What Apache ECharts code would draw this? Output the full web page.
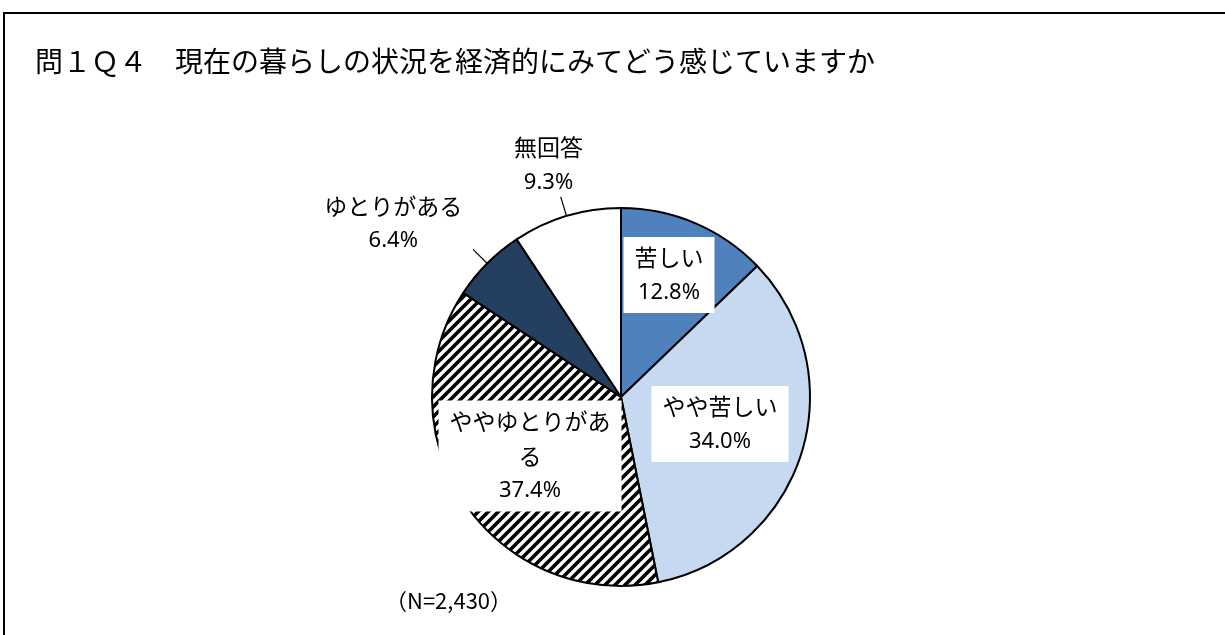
<!DOCTYPE html>
<html>
<head>
<meta charset="utf-8">
<script src="https://cdn.jsdelivr.net/npm/echarts@6/dist/echarts.min.js"></script>
<style>
  html, body { margin: 0; padding: 0; background: #fff; }
  #chart { width: 1225px; height: 635px; }
</style>
</head>
<body>
<div id="chart"></div>
<script>
const categories = ['苦しい', 'やや苦しい', 'ややゆとりがある', 'ゆとりがある', '無回答']
const percents = [12.8, 34.0, 37.4, 6.4, 9.3]
const sampleNote = '（N=2,430）'
const titleText = '問１Ｑ４　現在の暮らしの状況を経済的にみてどう感じていますか'

const jpFont = '"Noto Sans CJK JP", "Noto Sans", sans-serif'
const numFont = '"Noto Sans", "Open Sans", sans-serif'

// diagonal stripes for ややゆとりがある
function hatch() {
  const c = document.createElement('canvas')
  c.width = 10
  c.height = 10
  const ctx = c.getContext('2d')
  ctx.fillStyle = '#fff'
  ctx.fillRect(0, 0, 10, 10)
  ctx.strokeStyle = '#000'
  ctx.lineWidth = 3.6
  ctx.beginPath()
  ctx.moveTo(-5, 5); ctx.lineTo(5, -5)
  ctx.moveTo(0, 10); ctx.lineTo(10, 0)
  ctx.moveTo(5, 15); ctx.lineTo(15, 5)
  ctx.stroke()
  return c
}

const sliceColors = ['#4F81BD', '#C6D9F0', { image: hatch(), repeat: 'repeat' }, '#243F60', '#FFFFFF']

// label centres (inside ones) and offsets from the slice edge (outside ones)
const insidePos = { 0: [669, 275], 1: [720, 424], 2: [530, 456] }
const outsideOffset = { 3: [-94, -40], 4: [-18, -51] }

const chart = echarts.init(document.getElementById('chart'))

chart.setOption({
  animation: false,
  backgroundColor: '#fff',
  title: {
    text: titleText,
    left: 35,
    top: 47,
    padding: 0,
    textStyle: { fontFamily: jpFont, fontSize: 28, fontWeight: 'normal', color: '#000' },
  },
  graphic: [
    {
      type: 'rect',
      shape: { x: 4, y: 13, width: 1240, height: 640 },
      style: { fill: null, stroke: '#000', lineWidth: 2 },
      silent: true,
    },
    {
      type: 'text',
      left: 385,
      top: 590,
      style: { text: sampleNote, fontFamily: jpFont, fontSize: 22, fill: '#000' },
    },
  ],
  series: [{
    type: 'pie',
    center: [621, 397],
    radius: [0, 189],
    startAngle: 90,
    clockwise: true,
    avoidLabelOverlap: false,
    itemStyle: { borderColor: '#000', borderWidth: 2 },
    emphasis: { disabled: true },
    labelLine: { show: true, length: 20, length2: 0, lineStyle: { color: '#000', width: 1.2 } },
    label: {
      fontFamily: jpFont,
      color: '#000',
      formatter: (p) => {
        const n = p.name.length > 7 ? p.name.slice(0, 7) + '\n' + p.name.slice(7) : p.name
        return '{n|' + n.split('\n').join('}\n{n|') + '}\n{p|' + p.value.toFixed(1) + '%}'
      },
      rich: {
        n: { fontFamily: jpFont, fontSize: 23, lineHeight: 35, color: '#000', align: 'center' },
        p: { fontFamily: numFont, fontSize: 22, lineHeight: 35, color: '#000', align: 'center' },
      },
    },
    labelLayout: (params) => {
      const i = params.dataIndex
      if (insidePos[i]) {
        return { x: insidePos[i][0], y: insidePos[i][1], align: 'center', verticalAlign: 'middle' }
      }
      const edge = params.labelLinePoints[0]
      const end = params.labelLinePoints[1]
      const off = outsideOffset[i]
      return {
        x: edge[0] + off[0],
        y: edge[1] + off[1],
        align: 'center',
        verticalAlign: 'middle',
        labelLinePoints: [edge, end, end],
      }
    },
    data: categories.map((name, i) => {
      const inside = i < 3
      return {
        name,
        value: percents[i],
        itemStyle: { color: sliceColors[i] },
        labelLine: { show: !inside },
        label: inside
          ? { position: 'inside', backgroundColor: '#fff', padding: [3, 11] }
          : { position: 'outside' },
      }
    }),
  }],
})
</script>
</body>
</html>
